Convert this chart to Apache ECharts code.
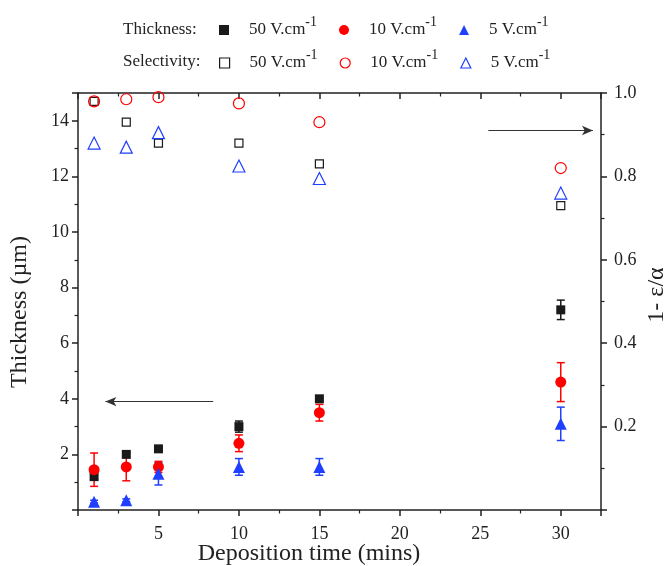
<!DOCTYPE html>
<html>
<head>
<meta charset="utf-8">
<title>Thickness and selectivity vs deposition time</title>
<script src="https://cdn.jsdelivr.net/npm/echarts@6/dist/echarts.min.js"></script>
<style>
  html, body { margin: 0; padding: 0; background: #fff; }
  #chart { width: 669px; height: 566px; }
</style>
</head>
<body>
<div id="chart"></div>
<script>
// deposition time (mins)
var times = [1, 3, 5, 10, 15, 30]

// thickness (um) + error, left axis
var thick50 = [1.2, 2.0, 2.2, 3.0, 4.0, 7.2]
var thick50Err = [0.1, 0.1, 0.05, 0.2, 0.1, 0.35]
var thick10 = [1.45, 1.55, 1.55, 2.4, 3.5, 4.6]
var thick10Err = [0.6, 0.5, 0.2, 0.3, 0.3, 0.7]
var thick5 = [0.3, 0.35, 1.3, 1.55, 1.55, 3.1]
var thick5Err = [0.05, 0.05, 0.4, 0.3, 0.3, 0.6]

// selectivity 1 - e/a, right axis
var sel50 = [0.98, 0.93, 0.88, 0.88, 0.83, 0.73]
var sel10 = [0.98, 0.985, 0.99, 0.975, 0.93, 0.82]
var sel5 = [0.88, 0.87, 0.905, 0.825, 0.795, 0.76]

// arrows showing which axis each group uses
var arrowThick = [[8.4, 3.9], [1.7, 3.9]]
var arrowSel = [[25.5, 0.91], [32.0, 0.91]]

var FONT = '"Liberation Serif", "Times New Roman", serif'
var INK = '#222'
var BLACK = '#1a1a1a'
var RED = '#ff0000'
var BLUE = '#1f3fff'

var fieldLabel = { t50: '50', t10: '10', t5: '5', s50: '50', s10: '10', s5: '5' }

function pairs(vals) {
  return times.map(function(t, i) { return [t, vals[i]] })
}

function errorBars(vals, errs, color) {
  return {
    type: 'custom',
    xAxisIndex: 0,
    yAxisIndex: 0,
    silent: true,
    data: times.map(function(t, i) { return [t, vals[i] - errs[i], vals[i] + errs[i]] }),
    encode: { x: 0, y: [1, 2] },
    renderItem: function(params, api) {
      var lo = api.coord([api.value(0), api.value(1)])
      var hi = api.coord([api.value(0), api.value(2)])
      var st = { stroke: color, lineWidth: 1.5 }
      return {
        type: 'group',
        children: [
          { type: 'line', shape: { x1: lo[0], y1: lo[1], x2: hi[0], y2: hi[1] }, style: st },
          { type: 'line', shape: { x1: lo[0] - 4, y1: lo[1], x2: lo[0] + 4, y2: lo[1] }, style: st },
          { type: 'line', shape: { x1: hi[0] - 4, y1: hi[1], x2: hi[0] + 4, y2: hi[1] }, style: st }
        ]
      }
    }
  }
}

function filled(name, vals, symbol, size, color) {
  return {
    type: 'scatter', name: name, yAxisIndex: 0,
    symbol: symbol, symbolSize: size,
    itemStyle: { color: color, opacity: 1 },
    data: pairs(vals)
  }
}

function hollow(name, vals, symbol, size, color) {
  return {
    type: 'scatter', name: name, yAxisIndex: 1,
    symbol: symbol, symbolSize: size,
    itemStyle: { color: 'rgba(255,255,255,0)', borderColor: color, borderWidth: 1.2, opacity: 1 },
    data: pairs(vals)
  }
}

function arrow(pts) {
  return {
    silent: true,
    symbol: ['none', 'arrow'],
    symbolSize: [7, 11],
    label: { show: false },
    lineStyle: { color: '#333', width: 1, type: 'solid', opacity: 1 },
    data: [[{ coord: pts[0] }, { coord: pts[1] }]]
  }
}

var legendText = {
  fontFamily: FONT,
  color: INK,
  rich: {
    a: { fontFamily: FONT, fontSize: 17, color: INK, lineHeight: 30, padding: [0, 0, 0, 15] },
    s: { fontFamily: FONT, fontSize: 14, color: INK, lineHeight: 14, verticalAlign: 'top' }
  }
}

function legendFmt(name) {
  return '{a|' + fieldLabel[name] + ' V.cm}{s|-1}'
}

var axisLine = { show: true, onZero: false, lineStyle: { color: INK, width: 1.5 } }
var tick = { show: true, length: 6, lineStyle: { color: INK, width: 1.5 } }
var minor = { show: true, splitNumber: 2, length: 3.5, lineStyle: { color: INK, width: 1.2 } }

var t50 = filled('t50', thick50, 'rect', 9, BLACK)
t50.markLine = arrow(arrowThick)
var s50 = hollow('s50', sel50, 'rect', 8, BLACK)
s50.markLine = arrow(arrowSel)

var chart = echarts.init(document.getElementById('chart'), null, { renderer: 'canvas' })
chart.setOption({
  animation: false,
  backgroundColor: '#fff',
  grid: { left: 78, right: 68, top: 93, bottom: 56, containLabel: false, outerBoundsMode: 'none' },
  graphic: [
    { type: 'text', x: 123, y: 30, style: { text: 'Thickness:', font: '17px ' + FONT, fill: INK, verticalAlign: 'middle' } },
    { type: 'text', x: 123, y: 62, style: { text: 'Selectivity:', font: '17px ' + FONT, fill: INK, verticalAlign: 'middle' } }
  ],
  legend: [
    {
      data: ['t50', 't10', 't5'], left: 219, top: 15, padding: 0, itemGap: 22,
      itemWidth: 10, itemHeight: 10, selectedMode: false,
      itemStyle: { opacity: 1 },
      formatter: legendFmt, textStyle: legendText
    },
    {
      data: ['s50', 's10', 's5'], left: 219, top: 48, padding: 0, itemGap: 22,
      itemWidth: 10, itemHeight: 10, selectedMode: false,
      itemStyle: { borderWidth: 1.2, opacity: 1 },
      formatter: legendFmt, textStyle: legendText
    }
  ],
  xAxis: [
    {
      type: 'value', position: 'bottom', min: 0, max: 32.5, interval: 5,
      axisLine: axisLine, axisTick: tick, minorTick: minor,
      splitLine: { show: false },
      axisLabel: {
        fontFamily: FONT, fontSize: 18, color: INK, margin: 15,
        formatter: function(v) { return v > 0 && v <= 30 ? String(v) : '' }
      },
      name: 'Deposition time (mins)', nameLocation: 'middle', nameGap: 32, nameMoveOverlap: false,
      nameTextStyle: { fontFamily: FONT, fontSize: 24, color: INK, padding: [0, 61, 0, 0] }
    },
    {
      type: 'value', position: 'top', min: 0, max: 32.5, interval: 5,
      axisLine: axisLine,
      axisTick: { show: true, inside: true, length: 6, lineStyle: { color: INK, width: 1.5 } },
      minorTick: minor,
      splitLine: { show: false },
      axisLabel: { show: false }
    }
  ],
  yAxis: [
    {
      type: 'value', position: 'left', min: 0, max: 15, interval: 2,
      axisLine: axisLine, axisTick: tick, minorTick: minor,
      splitLine: { show: false },
      axisLabel: {
        fontFamily: FONT, fontSize: 18, color: INK, margin: 9,
        formatter: function(v) { return v > 0 && v < 15 ? String(v) : '' }
      },
      name: 'Thickness (µm)', nameLocation: 'middle', nameGap: 46, nameMoveOverlap: false,
      nameTextStyle: { fontFamily: FONT, fontSize: 24, color: INK, padding: [0, 21, 0, 0] }
    },
    {
      type: 'value', position: 'right', min: 0, max: 1, interval: 0.2,
      axisLine: axisLine, axisTick: tick, minorTick: minor,
      splitLine: { show: false },
      axisLabel: {
        fontFamily: FONT, fontSize: 18, color: INK, margin: 13,
        formatter: function(v) { return v > 0 ? v.toFixed(1) : '' }
      },
      name: '1- ε/α', nameLocation: 'middle', nameGap: 44, nameMoveOverlap: false,
      nameTextStyle: { fontFamily: FONT, fontSize: 24, color: INK, padding: [0, 0, 0, 13] }
    }
  ],
  series: [
    s50,
    hollow('s10', sel10, 'circle', 11, RED),
    hollow('s5', sel5, 'triangle', 12, BLUE),
    errorBars(thick50, thick50Err, BLACK),
    t50,
    errorBars(thick10, thick10Err, RED),
    filled('t10', thick10, 'circle', 11, RED),
    errorBars(thick5, thick5Err, BLUE),
    filled('t5', thick5, 'triangle', 12, BLUE)
  ]
})
</script>
</body>
</html>
